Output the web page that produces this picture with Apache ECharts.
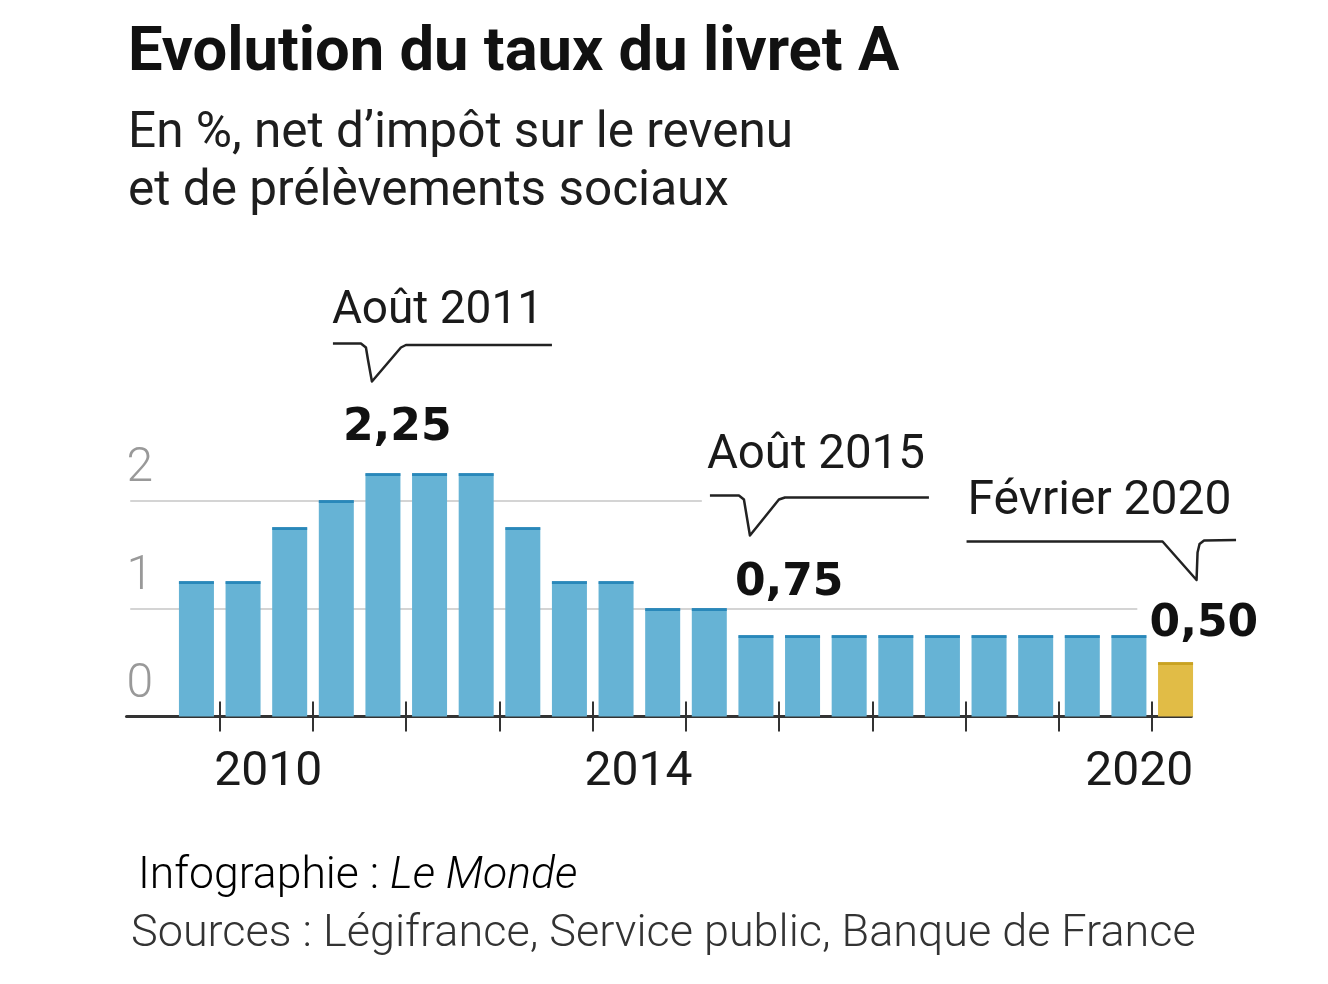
<!DOCTYPE html>
<html lang="fr">
<head>
<meta charset="UTF-8" />
<script src="https://cdn.jsdelivr.net/npm/echarts@6/dist/echarts.min.js"></script>
<style>
html,body{margin:0;padding:0;background:#fff;}
#main{width:1328px;height:984px;}
</style>
</head>
<body>
<div id="main"></div>
<script type="text/javascript">
// taux du livret A, un bâton par semestre
var semestres = ['2009 S2','2010 S1','2010 S2','2011 S1','2011 S2','2012 S1','2012 S2','2013 S1','2013 S2','2014 S1','2014 S2',
	'2015 S1','2015 S2','2016 S1','2016 S2','2017 S1','2017 S2','2018 S1','2018 S2','2019 S1','2019 S2','2020 S1'];
var taux = [1.25,1.25,1.75,2,2.25,2.25,2.25,1.75,1.25,1.25,1,1,0.75,0.75,0.75,0.75,0.75,0.75,0.75,0.75,0.75,0.5];
var semestreJaune = '2020 S1';

// axes
var anneesTicks = [2010,2011,2012,2013,2014,2015,2016,2017,2018,2019,2020];
var anneesLabels = ['2010','2014','2020'];
var yLabels = [0,1,2];

// annotations
var notesSemestre = ['2011 S2','2015 S2','2020 S1'];
var notesTitre = ['Août 2011','Août 2015','Février 2020'];
var notesTaux = ['2,25','0,75','0,50'];

var BLEU = '#66b3d5', BLEU_FONCE = '#1a7db3';
var JAUNE = '#e1bc46', JAUNE_FONCE = '#c39b18';

// milieu du semestre sur l'axe des années
function pos(s){
	var p = s.split(' S');
	return +p[0] + (p[1] === '1' ? 0.25 : 0.75);
}

var barres = semestres.map(function(s, i){
	var jaune = s === semestreJaune;
	return {value: [pos(s), taux[i]], itemStyle: {color: jaune ? JAUNE : BLEU}};
});
var chapeaux = semestres.map(function(s, i){
	var jaune = s === semestreJaune;
	return {value: [pos(s), taux[i]], itemStyle: {color: jaune ? JAUNE_FONCE : BLEU_FONCE}};
});
var notes = notesSemestre.map(function(s){
	return [pos(s), taux[semestres.indexOf(s)]];
});

// position des labels d'années (centrés sur l'année, 2020 décalé à gauche)
var labelsAt = [2010.52, 2014.49, 2019.86];

// décalages en px des textes et des bulles, par rapport au haut du bâton
var notesLayout = [
	{titre: [-51, -162], chiffre: [-40, -45], taille: 46,
	 bulle: [[-50,-130],[-22,-130],[-17,-126],[-15,-114],[-11,-92],[18,-126],[23,-128.5],[169,-128.5]]},
	{titre: [-49, -179], chiffre: [-21, -52], taille: 47.5,
	 bulle: [[-46,-140],[-17,-140],[-12,-136],[-10,-124],[-6,-100],[23,-136],[29,-138],[173,-138]]},
	{titre: [-208, -161], chiffre: [-26, -38], taille: 48,
	 bulle: [[-209,-121],[-13,-121],[21,-82.5],[22,-110],[24,-118.5],[28.5,-122],[60.5,-122.5]]}
];

function renderNote(params, api){
	var p = api.coord([api.value(0), api.value(1)]);
	var n = notesLayout[params.dataIndex];
	var pts = n.bulle.map(function(d){ return [p[0] + d[0], p[1] + d[1]]; });
	return {
		type: 'group',
		children: [
			{type: 'polyline', shape: {points: pts},
			 style: {stroke: '#222', lineWidth: 2.5, fill: null, lineJoin: 'round'}},
			{type: 'text', x: p[0] + n.titre[0], y: p[1] + n.titre[1],
			 style: {text: notesTitre[params.dataIndex], fontFamily: 'Roboto', fontSize: n.taille, fontWeight: 400,
			 fill: '#1a1a1a', align: 'left', verticalAlign: 'middle'}},
			{type: 'text', x: p[0] + n.chiffre[0], y: p[1] + n.chiffre[1],
			 style: {text: notesTaux[params.dataIndex], fontFamily: 'DejaVu Sans', fontSize: 44, fontWeight: 'bold',
			 fill: '#111', align: 'left', verticalAlign: 'middle'}}
		]
	};
}

var tickStyle = {color: '#333', width: 2};

var option = {
	backgroundColor: '#fff',
	animation: false,
	grid: {left: 126.5, right: 136.6, top: 446.5, bottom: 267.5},
	xAxis: [{
		type: 'value', min: 2009, max: 2020.42, position: 'bottom',
		axisLine: {show: true, lineStyle: {color: '#333', width: 3}},
		axisTick: {show: true, customValues: anneesTicks, length: 15, lineStyle: tickStyle},
		axisLabel: {
			customValues: labelsAt, margin: 32,
			fontFamily: 'Roboto', fontSize: 48, color: '#1a1a1a',
			formatter: function(v){
				var best = 0;
				for(var i=0;i<labelsAt.length;i++){
					if(Math.abs(labelsAt[i]-v) < Math.abs(labelsAt[best]-v)) best = i;
				}
				return anneesLabels[best];
			}
		},
		splitLine: {show: false}
	},{
		type: 'value', min: 2009, max: 2020.42, position: 'bottom',
		axisLine: {show: false},
		axisTick: {show: true, inside: true, customValues: anneesTicks, length: 15, lineStyle: tickStyle},
		axisLabel: {show: false},
		splitLine: {show: false}
	}],
	yAxis: {
		type: 'value', min: 0, max: 2.5, interval: 1,
		axisLine: {show: false}, axisTick: {show: false}, splitLine: {show: false},
		axisLabel: {
			customValues: yLabels, inside: true, align: 'left', margin: 0,
			verticalAlign: 'bottom', lineHeight: 64,
			fontFamily: 'Roboto', fontSize: 48, fontWeight: 300, color: '#999'
		}
	},
	series: [{
		type: 'bar',
		data: barres,
		barWidth: 35,
		z: 2,
		silent: true,
		markLine: {
			silent: true, symbol: 'none', z: 1,
			label: {show: false},
			lineStyle: {color: '#c6c6c6', width: 1.5, type: 'solid'},
			data: [
				[{coord: [2009.04, 1]}, {coord: [2019.84, 1]}],
				[{coord: [2009.04, 2]}, {coord: [2015.17, 2]}]
			]
		}
	},{
		type: 'scatter',
		data: chapeaux,
		symbol: 'rect',
		symbolSize: [35, 3],
		symbolOffset: [0, 1],
		z: 3,
		silent: true
	},{
		type: 'custom',
		data: notes,
		renderItem: renderNote,
		z: 4,
		silent: true
	}],
	graphic: [
		{type: 'text', x: 128, y: 55,
		 style: {text: 'Evolution du taux du livret A', fontFamily: 'Roboto', fontSize: 61.5, fontWeight: 'bold',
		 fill: '#111', align: 'left', verticalAlign: 'middle'}},
		{type: 'text', x: 128, y: 135,
		 style: {text: 'En %, net d\u2019impôt sur le revenu', fontFamily: 'Roboto', fontSize: 49.5,
		 fill: '#1e1e1e', align: 'left', verticalAlign: 'middle'}},
		{type: 'text', x: 128, y: 193,
		 style: {text: 'et de prélèvements sociaux', fontFamily: 'Roboto', fontSize: 49.5,
		 fill: '#1e1e1e', align: 'left', verticalAlign: 'middle'}},
		{type: 'text', x: 138, y: 877,
		 style: {text: '{a|Infographie : }{b|Le Monde}', align: 'left', verticalAlign: 'middle',
		 rich: {
			a: {fontFamily: 'Roboto', fontSize: 44.5, fontWeight: 300, color: '#333'},
			b: {fontFamily: 'Roboto', fontSize: 44.5, fontWeight: 300, fontStyle: 'italic', color: '#333'}
		 }}},
		{type: 'text', x: 131, y: 935,
		 style: {text: 'Sources : Légifrance, Service public, Banque de France', fontFamily: 'Roboto', fontSize: 45,
		 fontWeight: 300, fill: '#333', align: 'left', verticalAlign: 'middle'}}
	]
};

var myChart = echarts.init(document.getElementById('main'));
myChart.setOption(option);
</script>
</body>
</html>
